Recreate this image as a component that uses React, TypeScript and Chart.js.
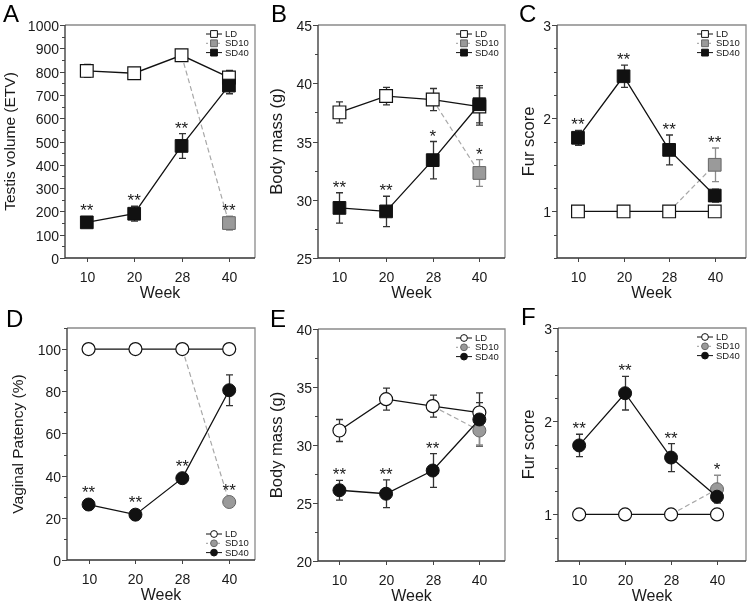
import React, { useEffect, useRef } from 'react';
import { Chart, registerables } from 'chart.js';

Chart.register(...registerables);

// ---------------- data ----------------
const weeks = ['10', '20', '28', '40'];
const seriesNames = ['LD', 'SD10', 'SD40'];
const sd10FromWeek = '28';
const sd10AtWeek = '40';

// A: testis volume (ETV)
const testisLD = [803, 793, 870, 775];
const testisLDErr = [28, 14, 12, 30];
const testisSD40 = [153, 190, 481, 740];
const testisSD40Err = [12, 32, 53, 35];
const testisSD10 = 150;
const testisSD10Err = 30;
const testisSigSD40 = ['**', '**', '**', ''];
const testisSigSD10 = '**';

// B: body mass (g), males
const maleMassLD = [37.5, 38.9, 38.6, 38.0];
const maleMassLDErr = [0.9, 0.75, 0.95, 1.6];
const maleMassSD40 = [29.3, 29.0, 33.4, 38.2];
const maleMassSD40Err = [1.3, 1.3, 1.6, 1.6];
const maleMassSD10 = 32.3;
const maleMassSD10Err = 1.15;
const maleMassSigSD40 = ['**', '**', '*', ''];
const maleMassSigSD10 = '*';

// C: fur score, males
const maleFurLD = [1, 1, 1, 1];
const maleFurLDErr = [0, 0, 0, 0];
const maleFurSD40 = [1.79, 2.45, 1.66, 1.17];
const maleFurSD40Err = [0.08, 0.12, 0.16, 0.07];
const maleFurSD10 = 1.5;
const maleFurSD10Err = 0.18;
const maleFurSigSD40 = ['**', '**', '**', ''];
const maleFurSigSD10 = '**';

// D: vaginal patency (%)
const patencyLD = [100, 100, 100, 100];
const patencyLDErr = [0, 0, 0, 0];
const patencySD40 = [26.3, 21.5, 38.8, 80.5];
const patencySD40Err = [0, 0, 0, 7.3];
const patencySD10 = 27.5;
const patencySD10Err = 0;
const patencySigSD40 = ['**', '**', '**', ''];
const patencySigSD10 = '**';

// E: body mass (g), females
const femaleMassLD = [31.25, 33.95, 33.35, 32.8];
const femaleMassLDErr = [0.95, 0.95, 0.95, 0.85];
const femaleMassSD40 = [26.1, 25.8, 27.8, 32.2];
const femaleMassSD40Err = [0.85, 1.2, 1.45, 2.3];
const femaleMassSD10 = 31.25;
const femaleMassSD10Err = 1.25;
const femaleMassSigSD40 = ['**', '**', '**', ''];
const femaleMassSigSD10 = '';

// F: fur score, females
const femaleFurLD = [1, 1, 1, 1];
const femaleFurLDErr = [0, 0, 0, 0];
const femaleFurSD40 = [1.74, 2.3, 1.61, 1.19];
const femaleFurSD40Err = [0.12, 0.18, 0.15, 0.07];
const femaleFurSD10 = 1.27;
const femaleFurSD10Err = 0.15;
const femaleFurSigSD40 = ['**', '**', '**', ''];
const femaleFurSigSD10 = '*';

// ---------------- layout / styles ----------------
const W = 750;
const H = 603;
const FONT = '"Liberation Sans", Arial, Helvetica, sans-serif';

type Panel = {
  letter: string;
  letterX: number;
  letterY: number;
  box: { l: number; r: number; t: number; b: number };
  yMin: number;
  yMax: number;
  major: number;
  minor: number;
  yTitle: string;
  yTitleX: number;
  yTitleSize: number;
  shape: 'rect' | 'circle';
  ld: number[];
  ldErr: number[];
  sd40: number[];
  sd40Err: number[];
  sd10: number;
  sd10Err: number;
  sig40: string[];
  sig10: string;
  legendX: number;
  legendY: number;
};

const panels: Panel[] = [
  {
    letter: 'A', letterX: 3, letterY: 22,
    box: { l: 65, r: 255, t: 25, b: 258 },
    yMin: 0, yMax: 1000, major: 100, minor: 50,
    yTitle: 'Testis volume (ETV)', yTitleX: 15, yTitleSize: 15.5,
    shape: 'rect',
    ld: testisLD, ldErr: testisLDErr, sd40: testisSD40, sd40Err: testisSD40Err,
    sd10: testisSD10, sd10Err: testisSD10Err, sig40: testisSigSD40, sig10: testisSigSD10,
    legendX: 214, legendY: 34,
  },
  {
    letter: 'B', letterX: 271, letterY: 22,
    box: { l: 318, r: 505, t: 25, b: 258 },
    yMin: 25, yMax: 45, major: 5, minor: 2.5,
    yTitle: 'Body mass (g)', yTitleX: 282, yTitleSize: 16.5,
    shape: 'rect',
    ld: maleMassLD, ldErr: maleMassLDErr, sd40: maleMassSD40, sd40Err: maleMassSD40Err,
    sd10: maleMassSD10, sd10Err: maleMassSD10Err, sig40: maleMassSigSD40, sig10: maleMassSigSD10,
    legendX: 464, legendY: 34,
  },
  {
    letter: 'C', letterX: 519, letterY: 22,
    box: { l: 557, r: 746, t: 25, b: 258 },
    yMin: 0.5, yMax: 3, major: 1, minor: 0.25,
    yTitle: 'Fur score', yTitleX: 534, yTitleSize: 16.5,
    shape: 'rect',
    ld: maleFurLD, ldErr: maleFurLDErr, sd40: maleFurSD40, sd40Err: maleFurSD40Err,
    sd10: maleFurSD10, sd10Err: maleFurSD10Err, sig40: maleFurSigSD40, sig10: maleFurSigSD10,
    legendX: 705, legendY: 34,
  },
  {
    letter: 'D', letterX: 6, letterY: 327,
    box: { l: 67, r: 255, t: 328, b: 560 },
    yMin: 0, yMax: 110, major: 20, minor: 10,
    yTitle: 'Vaginal Patency (%)', yTitleX: 23, yTitleSize: 15.5,
    shape: 'circle',
    ld: patencyLD, ldErr: patencyLDErr, sd40: patencySD40, sd40Err: patencySD40Err,
    sd10: patencySD10, sd10Err: patencySD10Err, sig40: patencySigSD40, sig10: patencySigSD10,
    legendX: 214, legendY: 534,
  },
  {
    letter: 'E', letterX: 270, letterY: 327,
    box: { l: 318, r: 505, t: 329, b: 561 },
    yMin: 20, yMax: 40, major: 5, minor: 2.5,
    yTitle: 'Body mass (g)', yTitleX: 282, yTitleSize: 16.5,
    shape: 'circle',
    ld: femaleMassLD, ldErr: femaleMassLDErr, sd40: femaleMassSD40, sd40Err: femaleMassSD40Err,
    sd10: femaleMassSD10, sd10Err: femaleMassSD10Err, sig40: femaleMassSigSD40, sig10: femaleMassSigSD10,
    legendX: 464, legendY: 338,
  },
  {
    letter: 'F', letterX: 521, letterY: 325,
    box: { l: 558, r: 746, t: 328, b: 561 },
    yMin: 0.5, yMax: 3, major: 1, minor: 0.25,
    yTitle: 'Fur score', yTitleX: 534, yTitleSize: 16.5,
    shape: 'circle',
    ld: femaleFurLD, ldErr: femaleFurLDErr, sd40: femaleFurSD40, sd40Err: femaleFurSD40Err,
    sd10: femaleFurSD10, sd10Err: femaleFurSD10Err, sig40: femaleFurSigSD40, sig10: femaleFurSigSD10,
    legendX: 705, legendY: 337,
  },
];

const X_MIN = -0.46;
const X_MAX = 3.55;

function markerRadius(shape: 'rect' | 'circle') {
  return shape === 'rect' ? 9 : 6.5;
}
function markerHalf(shape: 'rect' | 'circle') {
  return shape === 'rect' ? 6.4 : 6.5;
}

function drawShape(ctx: CanvasRenderingContext2D, shape: 'rect' | 'circle', x: number, y: number, h: number, fill: string, stroke: string) {
  ctx.beginPath();
  if (shape === 'rect') ctx.rect(x - h, y - h, 2 * h, 2 * h);
  else ctx.arc(x, y, h, 0, Math.PI * 2);
  ctx.fillStyle = fill;
  ctx.fill();
  ctx.lineWidth = 1;
  ctx.strokeStyle = stroke;
  ctx.stroke();
}

function makePlugin(p: Panel) {
  const i10 = weeks.indexOf(sd10AtWeek);
  return {
    id: 'panelDecor' + p.letter,
    beforeDatasetsDraw(chart: any) {
      const ctx: CanvasRenderingContext2D = chart.ctx;
      const xs = chart.scales.x;
      const ys = chart.scales.y;
      const { l, r, t, b } = p.box;
      ctx.save();
      // frame
      ctx.lineWidth = 1.3;
      ctx.strokeStyle = '#8a8a8a';
      ctx.beginPath();
      ctx.moveTo(l, t);
      ctx.lineTo(r, t);
      ctx.lineTo(r, b);
      ctx.stroke();
      ctx.strokeStyle = '#333';
      ctx.beginPath();
      ctx.moveTo(l, t);
      ctx.lineTo(l, b);
      ctx.lineTo(r, b);
      ctx.stroke();

      // y ticks
      ctx.fillStyle = '#1a1a1a';
      ctx.font = `14px ${FONT}`;
      ctx.textAlign = 'right';
      ctx.textBaseline = 'alphabetic';
      ctx.lineWidth = 1;
      const n = Math.round((p.yMax - p.yMin) / p.minor);
      for (let k = 0; k <= n; k++) {
        const v = p.yMin + k * p.minor;
        const py = Math.round(ys.getPixelForValue(v)) + 0.5;
        const q = v / p.major;
        const isMajor = Math.abs(q - Math.round(q)) < 1e-6;
        const len = isMajor ? 5 : 3;
        ctx.strokeStyle = '#444';
        ctx.beginPath();
        ctx.moveTo(l - len, py);
        ctx.lineTo(l, py);
        ctx.stroke();
        if (isMajor) ctx.fillText(String(v), l - 6, py + 5);
      }
      // x ticks
      ctx.textAlign = 'center';
      weeks.forEach((w, i) => {
        const px = Math.round(xs.getPixelForValue(i)) + 0.5;
        ctx.beginPath();
        ctx.moveTo(px, b);
        ctx.lineTo(px, b + 4);
        ctx.stroke();
        ctx.fillText(w, px, b + 24);
      });
      // axis titles
      ctx.font = `16px ${FONT}`;
      ctx.fillText('Week', (l + r) / 2, b + 40);
      ctx.save();
      ctx.font = `${p.yTitleSize}px ${FONT}`;
      ctx.translate(p.yTitleX, (t + b) / 2);
      ctx.rotate(-Math.PI / 2);
      ctx.fillText(p.yTitle, 0, 0);
      ctx.restore();
      // panel letter
      ctx.font = `24px ${FONT}`;
      ctx.textAlign = 'left';
      ctx.fillStyle = '#000';
      ctx.fillText(p.letter, p.letterX, p.letterY);

      // error bars
      const bars = [
        { vals: p.ld, errs: p.ldErr, idx: weeks.map((_, i) => i), color: '#333' },
        { vals: p.sd40, errs: p.sd40Err, idx: weeks.map((_, i) => i), color: '#333' },
        { vals: [p.sd10], errs: [p.sd10Err], idx: [i10], color: '#8c8c8c' },
      ];
      bars.forEach((s) => {
        s.idx.forEach((xi, j) => {
          const e = s.errs[j];
          if (!e) return;
          const px = Math.round(xs.getPixelForValue(xi)) + 0.5;
          const y1 = ys.getPixelForValue(s.vals[j] + e);
          const y2 = ys.getPixelForValue(s.vals[j] - e);
          ctx.strokeStyle = s.color;
          ctx.lineWidth = 1.3;
          ctx.beginPath();
          ctx.moveTo(px, y1);
          ctx.lineTo(px, y2);
          ctx.moveTo(px - 3.5, y1);
          ctx.lineTo(px + 3.5, y1);
          ctx.moveTo(px - 3.5, y2);
          ctx.lineTo(px + 3.5, y2);
          ctx.stroke();
        });
      });
      ctx.restore();
    },
    afterDatasetsDraw(chart: any) {
      const ctx: CanvasRenderingContext2D = chart.ctx;
      const xs = chart.scales.x;
      const ys = chart.scales.y;
      ctx.save();
      // significance marks
      ctx.font = `17px ${FONT}`;
      ctx.textAlign = 'center';
      ctx.textBaseline = 'alphabetic';
      ctx.fillStyle = '#1a1a1a';
      const half = markerHalf(p.shape);
      const star = (xi: number, v: number, e: number, s: string) => {
        if (!s) return;
        const px = xs.getPixelForValue(xi);
        const top = Math.min(ys.getPixelForValue(v + e), ys.getPixelForValue(v) - half);
        const cy = top - 10;
        ctx.fillText(s, px, cy + 10);
      };
      p.sig40.forEach((s, i) => star(i, p.sd40[i], p.sd40Err[i], s));
      star(i10, p.sd10, p.sd10Err, p.sig10);

      // legend
      const rows = [
        { name: seriesNames[0], fill: '#fff', stroke: '#111', line: '#111', dash: [] as number[] },
        { name: seriesNames[1], fill: '#9a9a9a', stroke: '#666', line: '#9a9a9a', dash: [2, 2] },
        { name: seriesNames[2], fill: '#111', stroke: '#111', line: '#111', dash: [] as number[] },
      ];
      ctx.font = `9.5px ${FONT}`;
      ctx.textAlign = 'left';
      ctx.textBaseline = 'middle';
      rows.forEach((row, k) => {
        const y = p.legendY + k * 9.3;
        const x = p.legendX;
        ctx.save();
        ctx.setLineDash(row.dash);
        ctx.strokeStyle = row.line;
        ctx.lineWidth = 1;
        ctx.beginPath();
        ctx.moveTo(x - 8, y);
        ctx.lineTo(x + 8, y);
        ctx.stroke();
        ctx.restore();
        drawShape(ctx, p.shape, x, y, 3.4, row.fill, row.stroke);
        ctx.fillStyle = '#1a1a1a';
        ctx.fillText(row.name, x + 11, y + 0.5);
      });
      ctx.restore();
    },
  };
}

function PanelChart({ p }: { p: Panel }) {
  const ref = useRef<HTMLCanvasElement | null>(null);
  useEffect(() => {
    if (!ref.current) return;
    const idx = weeks.map((_, i) => i);
    const iFrom = weeks.indexOf(sd10FromWeek);
    const iAt = weeks.indexOf(sd10AtWeek);
    const rr = markerRadius(p.shape);
    const chart = new Chart(ref.current, {
      type: 'line',
      data: {
        datasets: [
          {
            label: seriesNames[2],
            data: idx.map((i) => ({ x: i, y: p.sd40[i] })),
            borderColor: '#111',
            borderWidth: 1.3,
            pointStyle: p.shape,
            pointRadius: rr,
            pointBackgroundColor: '#111',
            pointBorderColor: '#111',
            pointBorderWidth: 1,
            tension: 0,
          },
          {
            label: seriesNames[0],
            data: idx.map((i) => ({ x: i, y: p.ld[i] })),
            borderColor: '#111',
            borderWidth: 1.3,
            pointStyle: p.shape,
            pointRadius: rr,
            pointBackgroundColor: '#fff',
            pointBorderColor: '#111',
            pointBorderWidth: 1.2,
            tension: 0,
          },
          {
            label: seriesNames[1],
            data: [
              { x: iFrom, y: p.ld[iFrom] },
              { x: iAt, y: p.sd10 },
            ],
            borderColor: '#a8a8a8',
            borderWidth: 1.2,
            borderDash: [5, 3],
            pointStyle: p.shape,
            pointRadius: [0, rr],
            pointBackgroundColor: '#9a9a9a',
            pointBorderColor: '#666',
            pointBorderWidth: 1,
            tension: 0,
          },
        ],
      } as any,
      options: {
        animation: false,
        responsive: false,
        events: [],
        layout: {
          padding: { left: p.box.l, right: W - p.box.r, top: p.box.t, bottom: H - p.box.b },
        },
        scales: {
          x: { type: 'linear', display: false, min: X_MIN, max: X_MAX },
          y: { type: 'linear', display: false, min: p.yMin, max: p.yMax },
        },
        plugins: { legend: { display: false }, tooltip: { enabled: false } },
      } as any,
      plugins: [makePlugin(p)],
    });
    return () => chart.destroy();
  }, [p]);
  return (
    <canvas
      ref={ref}
      width={W}
      height={H}
      style={{ position: 'absolute', left: 0, top: 0, width: W, height: H }}
    />
  );
}

export default function App() {
  return (
    <div style={{ position: 'absolute', left: 0, top: 0, width: W, height: H, background: '#fff' }}>
      {panels.map((p) => (
        <PanelChart key={p.letter} p={p} />
      ))}
    </div>
  );
}
